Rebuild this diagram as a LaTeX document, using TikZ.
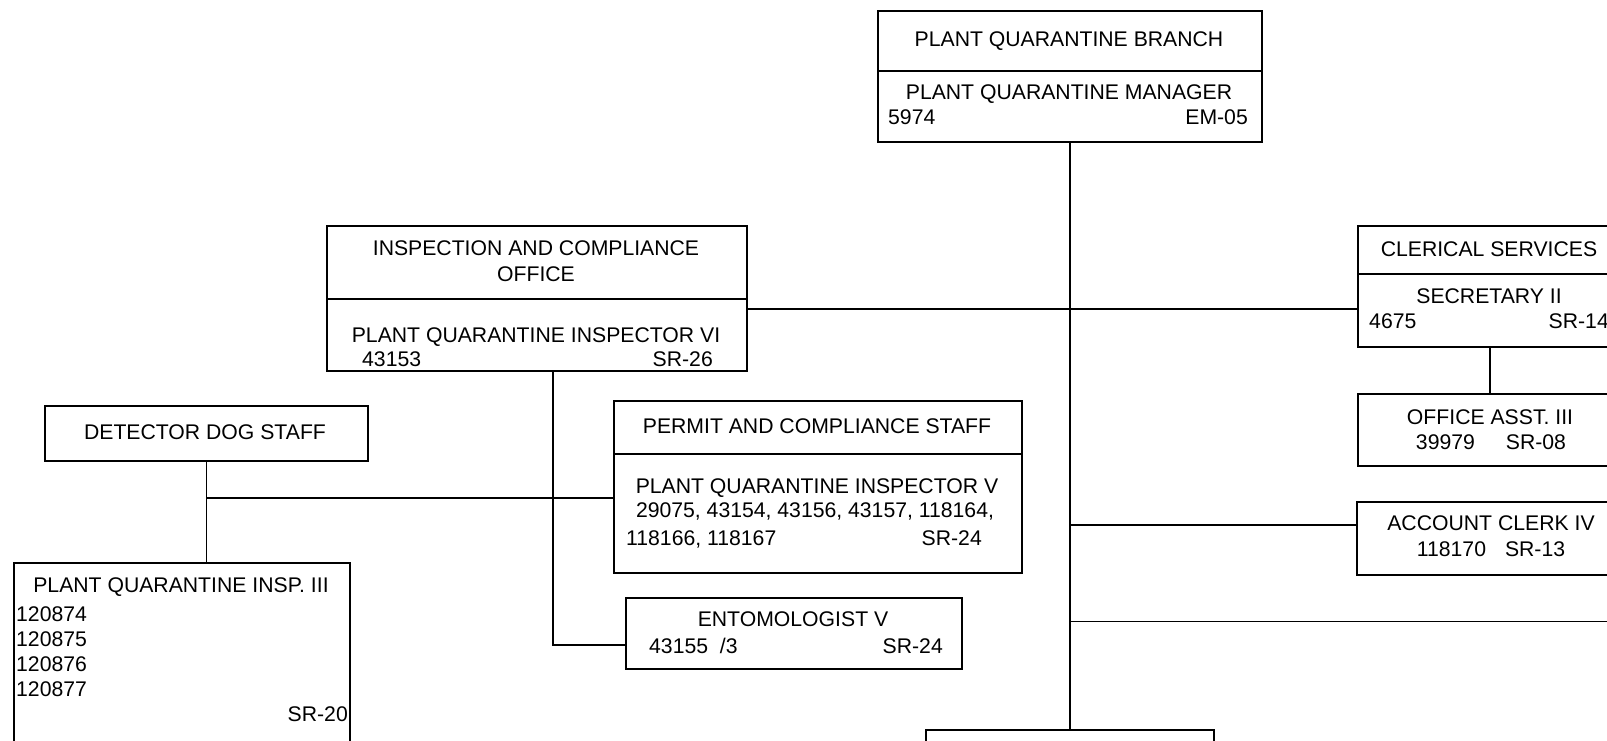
\documentclass[tikz,border=0pt]{standalone}
\usepackage{fontspec}
\setmainfont{Liberation Sans}
\begin{document}
\begin{tikzpicture}[x=1pt,y=-1pt,
  box/.style={draw=black, line width=1.8pt, rectangle, inner sep=0pt, anchor=north west},
  conn/.style={draw=black, line width=1.8pt},
  txt/.style={inner sep=0pt, font=\fontsize{21.2}{25}\selectfont}]
\useasboundingbox (0,0) rectangle (1607,741);
\fill[white] (0,0) rectangle (1607,741);
\clip (0,0) rectangle (1607,741);

% ---------- boxes ----------
\node[box, minimum width=384pt, minimum height=60pt] (topH) at (877,10) {};
\node[box, minimum width=384pt, minimum height=71pt] (topB) at (877,70) {};

\node[box, minimum width=420pt, minimum height=73pt] (icoH) at (326,225) {};
\node[box, minimum width=420pt, minimum height=72pt] (icoB) at (326,298) {};

\node[box, minimum width=264pt, minimum height=48pt] (clH) at (1357,225) {};
\node[box, minimum width=264pt, minimum height=73pt] (clB) at (1357,273) {};

\node[box, minimum width=264pt, minimum height=72pt] (office) at (1357,393) {};
\node[box, minimum width=266pt, minimum height=73pt] (acct) at (1356,501) {};

\node[box, minimum width=323pt, minimum height=55pt] (det) at (44,405) {};
\node[box, minimum width=336pt, minimum height=200pt] (pq3) at (13,562) {};

\node[box, minimum width=408pt, minimum height=53pt] (pmH) at (613,400) {};
\node[box, minimum width=408pt, minimum height=119pt] (pmB) at (613,453) {};

\node[box, minimum width=336pt, minimum height=71pt] (ento) at (625,597) {};

\node[box, minimum width=288pt, minimum height=40pt] (bot) at (925,729) {};

% ---------- texts ----------
\node[txt, anchor=base] (t1) at (1069,47) {PLANT QUARANTINE BRANCH};
\node[txt, anchor=base] (t2) at (1069,100) {PLANT QUARANTINE MANAGER};
\node[txt, anchor=base west] (t3) at (888,125) {5974};
\node[txt, anchor=base east] (t4) at (1248,125) {EM-05};

\node[txt, anchor=base] (t5) at (536,255) {INSPECTION AND COMPLIANCE};
\node[txt, anchor=base] (t6) at (536,281) {OFFICE};
\node[txt, anchor=base] (t7) at (536,342) {PLANT QUARANTINE INSPECTOR VI};
\node[txt, anchor=base west] (t8) at (362,366) {43153};
\node[txt, anchor=base east] (t9) at (713,366) {SR-26};

\node[txt, anchor=base] (t10) at (1489,256) {CLERICAL SERVICES};
\node[txt, anchor=base] (t11) at (1489,303) {SECRETARY II};
\node[txt, anchor=base west] (t12) at (1369,328) {4675};
\node[txt, anchor=base east] (t13) at (1609,328) {SR-14};

\node[txt, anchor=base] (t14) at (1490,424) {OFFICE ASST. III};
\node[txt, anchor=base] (t15) at (1491,449) {39979\hspace{31pt}SR-08};

\node[txt, anchor=base] (t16) at (1491,530) {ACCOUNT CLERK IV};
\node[txt, anchor=base] (t17) at (1491,556) {118170\hspace{19pt}SR-13};

\node[txt, anchor=base] (t18) at (205,439) {DETECTOR DOG STAFF};

\node[txt, anchor=base] (t19) at (181,592) {PLANT QUARANTINE INSP. III};
\node[txt, anchor=base west] (t20) at (16,621) {120874};
\node[txt, anchor=base west] (t21) at (16,646) {120875};
\node[txt, anchor=base west] (t22) at (16,671) {120876};
\node[txt, anchor=base west] (t23) at (16,696) {120877};
\node[txt, anchor=base east] (t24) at (348,721) {SR-20};

\node[txt, anchor=base] (t25) at (817,433) {PERMIT AND COMPLIANCE STAFF};
\node[txt, anchor=base] (t26) at (817,493) {PLANT QUARANTINE INSPECTOR V};
\node[txt, anchor=base] (t27) at (815,517) {29075, 43154, 43156, 43157, 118164,};
\node[txt, anchor=base west] (t28) at (626,545) {118166, 118167};
\node[txt, anchor=base east] (t29) at (982,545) {SR-24};

\node[txt, anchor=base] (t30) at (793,626) {ENTOMOLOGIST V};
\node[txt, anchor=base west] (t31) at (649,653) {43155~~/3};
\node[txt, anchor=base east] (t32) at (943,653) {SR-24};

% ---------- junction coordinates ----------
\coordinate (jSec) at (1069,309);
\coordinate (jAcct) at (1069,525);
\coordinate (jRight) at (1069,621.5);
\coordinate (rEnd) at (1620,621.5);
\coordinate (iv) at (553,370);
\coordinate (ivE) at (553,645);
\coordinate (jDet) at (206,498);

% ---------- connectors ----------
\draw[conn] (topB.south) -- (topB.south |- bot.north);
\draw[conn] (jSec -| icoB.east) -- (jSec -| clB.west);
\draw[conn] (clB.south) -- (office.north);
\draw[conn] (jAcct) -- (jAcct -| acct.west);
\draw[conn] (jRight) -- (rEnd);
\draw[conn] (iv) -- (ivE) -- (ivE -| ento.west);
\draw[conn] (det.south) -- (det.south |- pq3.north);
\draw[conn] (jDet) -- (jDet -| pmB.west);
\end{tikzpicture}
\end{document}
